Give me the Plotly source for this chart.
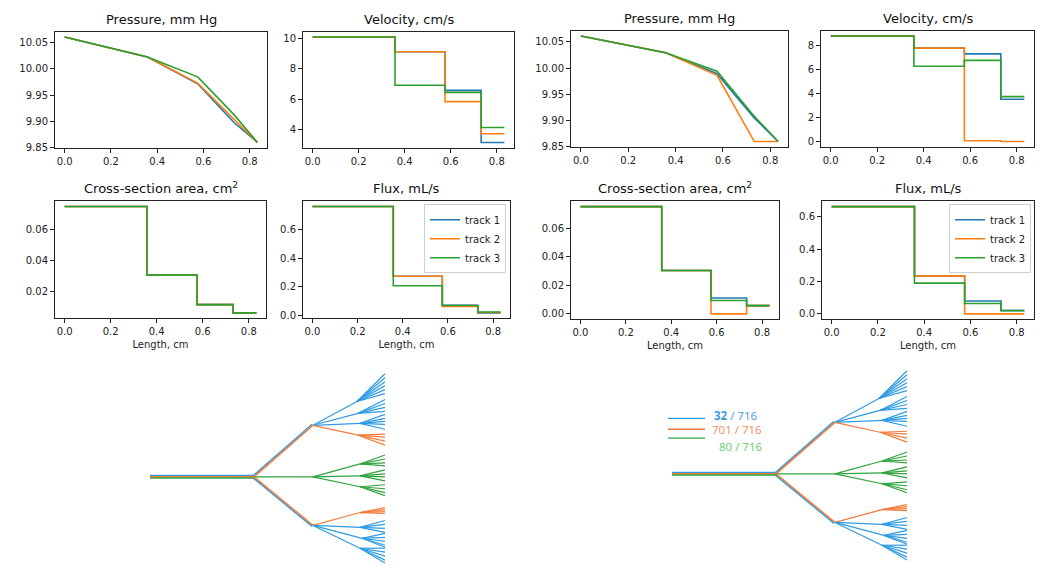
import plotly.graph_objects as go

W, H = 1043, 578

# ---------------- data ----------------
x_nodes = [0.0, 0.358, 0.575, 0.732, 0.833]
track_names = ["track 1", "track 2", "track 3"]
track_colors = ["#1f77b4", "#ff7f0e", "#2ca02c"]

# left case
pressure_1 = [
    [10.061, 10.023, 9.972, 9.898, 9.860],
    [10.061, 10.023, 9.973, 9.905, 9.860],
    [10.061, 10.023, 9.985, 9.913, 9.860],
]
velocity_1 = [
    [10.10, 9.13, 6.59, 3.17],
    [10.10, 9.13, 5.85, 3.74],
    [10.10, 6.93, 6.46, 4.15],
]
area_1 = [
    [0.0752, 0.0304, 0.0111, 0.0057],
    [0.0752, 0.0304, 0.0111, 0.0057],
    [0.0752, 0.0304, 0.0111, 0.0057],
]
flux_1 = [
    [0.764, 0.275, 0.072, 0.018],
    [0.764, 0.275, 0.064, 0.021],
    [0.764, 0.208, 0.070, 0.024],
]

# right case
pressure_2 = [
    [10.061, 10.029, 9.989, 9.905, 9.860],
    [10.061, 10.029, 9.986, 9.860, 9.860],
    [10.061, 10.029, 9.994, 9.908, 9.860],
]
velocity_2 = [
    [8.79, 7.78, 7.30, 3.52],
    [8.79, 7.78, 0.06, 0.00],
    [8.79, 6.27, 6.76, 3.74],
]
area_2 = [
    [0.0752, 0.0304, 0.0111, 0.0058],
    [0.0752, 0.0304, 0.0000, 0.0058],
    [0.0752, 0.0304, 0.0094, 0.0058],
]
flux_2 = [
    [0.664, 0.235, 0.080, 0.020],
    [0.664, 0.235, 0.000, 0.000],
    [0.664, 0.190, 0.064, 0.021],
]

x_ticks = [0.0, 0.2, 0.4, 0.6, 0.8]
p_ticks = [9.85, 9.90, 9.95, 10.00, 10.05]
v1_ticks = [4, 6, 8, 10]
v2_ticks = [0, 2, 4, 6, 8]
a1_ticks = [0.02, 0.04, 0.06]
a2_ticks = [0.00, 0.02, 0.04, 0.06]
f_ticks = [0.0, 0.2, 0.4, 0.6]

# vessel tree (layout units), same tree drawn twice
tree_root_x = [0, 104]
tree_l1_x = 163
tree_l1_y = [52, 0, -49]
tree_leaf_x = 235
# (parent L1 index, node x, node y, colour key, leaf y list)
tree_l2 = [
    (0, 207, 76, "b", [104, 100, 96, 92, 88, 84]),
    (0, 208, 64, "b", [78, 74, 70, 66]),
    (0, 210, 54, "b", [63, 59, 56, 53, 48]),
    (0, 208, 42, "o", [43, 40, 36, 32]),
    (1, 210, 13, "g", [22, 18, 14, 11]),
    (1, 210, 1, "g", [7, 3, 0, -4]),
    (1, 210, -10, "g", [-8, -12, -16, -19]),
    (2, 210, -36, "o", [-31, -33, -35, -37]),
    (2, 210, -51, "b", [-44, -48, -52, -56]),
    (2, 212, -62, "b", [-57, -61, -65, -69, -71]),
    (2, 210, -72, "b", [-72, -76, -80, -84, -87]),
]
tree_counts = ["32", "701", "80"]
tree_total = "716"

# ---------------- styling helpers ----------------
tree_col = {"b": "#2e9be3", "o": "#f47c3a", "g": "#2fa33e"}
FONT = "DejaVu Sans"


def xd(a, b):
    return [a / W, b / W]


def yd(top, bottom):
    return [1 - bottom / H, 1 - top / H]


def padded(series):
    vals = [v for s in series for v in s]
    lo, hi = min(vals), max(vals)
    m = 0.05 * (hi - lo)
    return [lo - m, hi + m]


fig = go.Figure()

panels = [
    # key, title, series, ticks, fmt, x px, y px, step, xlabel, legend
    ("1", "Pressure, mm Hg", pressure_1, p_ticks, "{:.2f}", (55, 267), (32, 149), False, False, None),
    ("2", "Velocity, cm/s", velocity_1, v1_ticks, "{:d}", (303, 514), (32, 149), True, False, None),
    ("3", "Pressure, mm Hg", pressure_2, p_ticks, "{:.2f}", (571, 788), (31, 148), False, False, None),
    ("4", "Velocity, cm/s", velocity_2, v2_ticks, "{:d}", (821, 1034), (31, 148), True, False, None),
    ("5", "Cross-section area, cm<sup>2</sup>", area_1, a1_ticks, "{:.2f}", (55, 266), (203, 321), True, True, None),
    ("6", "Flux, mL/s", flux_1, f_ticks, "{:.1f}", (303, 510), (203, 321), True, True, "legend"),
    ("7", "Cross-section area, cm<sup>2</sup>", area_2, a2_ticks, "{:.2f}", (571, 779), (203, 322), True, True, None),
    ("8", "Flux, mL/s", flux_2, f_ticks, "{:.1f}", (822, 1034), (203, 322), True, True, "legend2"),
]

annotations = []
layout_axes = {}
for key, title, series, ticks, fmt, (x0, x1), (y0, y1), step, xlab, leg in panels:
    xa = "x" if key == "1" else "x" + key
    ya = "y" if key == "1" else "y" + key
    for i, vals in enumerate(series):
        if step:
            yv = list(vals) + [vals[-1]]
        else:
            yv = list(vals)
        fig.add_trace(go.Scatter(
            x=x_nodes, y=yv, mode="lines", name=track_names[i],
            line=dict(color=track_colors[i], width=1.6, shape="hv" if step else "linear"),
            xaxis=xa, yaxis=ya, showlegend=leg is not None,
            legend=leg if leg else "legend", hoverinfo="skip"))
    ax_common = dict(showline=True, linecolor="#222", linewidth=1, mirror=True,
                     ticks="outside", ticklen=4, tickwidth=1, tickcolor="#222",
                     showgrid=False, zeroline=False, fixedrange=True,
                     tickfont=dict(family=FONT, size=10, color="#222"))
    xname = "xaxis" if key == "1" else "xaxis" + key
    yname = "yaxis" if key == "1" else "yaxis" + key
    xr = padded([x_nodes])
    layout_axes[xname] = dict(ax_common, domain=xd(x0, x1), anchor=ya, range=xr,
                              tickvals=x_ticks, ticktext=["{:.1f}".format(t) for t in x_ticks])
    if xlab:
        layout_axes[xname]["title"] = dict(text="Length, cm", font=dict(family=FONT, size=10, color="#222"),
                                           standoff=4)
    layout_axes[yname] = dict(ax_common, domain=yd(y0, y1), anchor=xa, range=padded(series),
                              tickvals=ticks, ticktext=[fmt.format(t) for t in ticks])
    annotations.append(dict(text=title, xref="paper", yref="paper", x=(x0 + x1) / 2 / W,
                            y=1 - y0 / H, xanchor="center", yanchor="bottom", yshift=3,
                            showarrow=False, font=dict(family=FONT, size=13, color="#111")))


# ---------------- trees ----------------
def add_tree(xa, ya):
    def seg(xs, ys, c, w=1.3):
        fig.add_trace(go.Scatter(x=xs, y=ys, mode="lines", line=dict(color=tree_col[c], width=w),
                                 xaxis=xa, yaxis=ya, showlegend=False, hoverinfo="skip"))

    rx0, rx1 = tree_root_x
    # L1 edges (drawn with small parallel offsets)
    for j, ly in enumerate(tree_l1_y):
        if j == 1:
            seg([rx1, tree_l1_x], [0, ly], "g")
        else:
            s = 1 if ly > 0 else -1
            seg([rx1 - 0.9, tree_l1_x - 0.9], [0 + 1.0 * s, ly + 1.0 * s], "b", 1.5)
            seg([rx1, tree_l1_x], [0, ly], "o", 1.5)
    # root trunk
    seg([rx0, rx1], [1.3, 1.3], "b", 1.6)
    seg([rx0, rx1], [0.0, 0.0], "o", 1.6)
    seg([rx0, rx1], [-1.2, -1.2], "g", 1.6)
    # L2 groups
    for parent, nx, ny, c, leaves in tree_l2:
        xs, ys = [tree_l1_x, nx], [tree_l1_y[parent], ny]
        for lf in leaves:
            xs += [None, nx, tree_leaf_x]
            ys += [None, ny, lf]
        seg(xs, ys, c, 1.2)


add_tree("x9", "y9")
add_tree("x10", "y10")
for k, (x0, x1) in (("9", (140, 400)), ("10", (662, 922))):
    layout_axes["xaxis" + k] = dict(domain=xd(x0, x1), range=[-10, 250], visible=False,
                                    anchor="y" + k, fixedrange=True)
layout_axes["yaxis9"] = dict(domain=yd(370, 578), range=[-97, 111], visible=False, anchor="x9", fixedrange=True)
layout_axes["yaxis10"] = dict(domain=yd(370, 578), range=[-100, 108], visible=False, anchor="x10", fixedrange=True)

# tree legend (right tree)
shapes = []
leg_rows = [(422, "#2e9be3", "<b>{}</b> / {}", 713, 419, "#3a9be0"),
            (433, "#f47c3a", "{} / {}", 711, 433, "#f7895a"),
            (442, "#2fa33e", "{} / {}", 718, 450, "#66cc5e")]
for i, (ly, lc, tfmt, tx, ty, tc) in enumerate(leg_rows):
    shapes.append(dict(type="line", xref="paper", yref="paper", x0=668 / W, x1=705 / W,
                       y0=1 - ly / H, y1=1 - ly / H, line=dict(color=lc, width=1.3)))
    annotations.append(dict(text=tfmt.format(tree_counts[i], tree_total), xref="paper", yref="paper",
                            x=tx / W, y=1 - ty / H, xanchor="left", yanchor="middle", showarrow=False,
                            borderpad=0, font=dict(family="Open Sans", size=11.5, color=tc)))

legend_style = dict(xref="paper", yref="paper", xanchor="right", yanchor="top",
                    bgcolor="rgba(255,255,255,0.8)", bordercolor="#d0d0d0", borderwidth=1,
                    font=dict(family=FONT, size=10, color="#222"), itemwidth=30,
                    tracegroupgap=0)

fig.update_layout(
    width=W, height=H, margin=dict(l=0, r=0, t=0, b=0),
    paper_bgcolor="white", plot_bgcolor="white",
    showlegend=True,
    legend=dict(legend_style, x=506 / W, y=1 - 206 / H),
    legend2=dict(legend_style, x=1031 / W, y=1 - 206 / H),
    annotations=annotations, shapes=shapes,
    **layout_axes,
)

fig.write_html("out.html", config={"displayModeBar": False},
               post_script="document.body.style.margin='0';document.body.style.overflow='hidden';")
